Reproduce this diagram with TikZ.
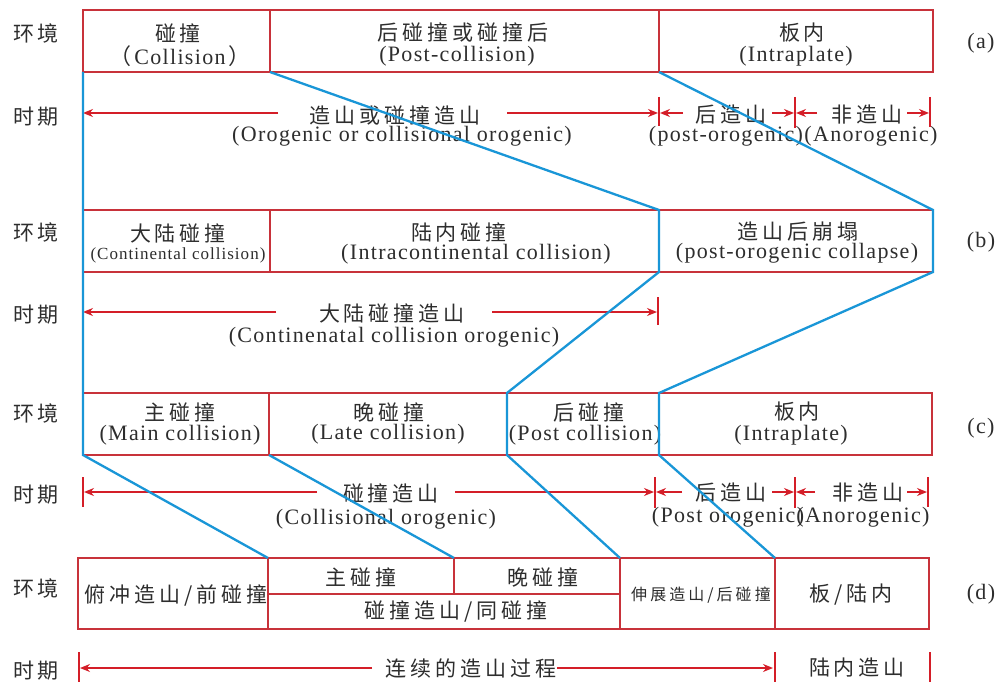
\documentclass[tikz,border=0pt]{standalone}
\usepackage{fontspec}
\setmainfont{Liberation Serif}
\newfontfamily\zhfont{Noto Sans CJK SC}[LetterSpace=19]
\newfontfamily\zhplain{Noto Sans CJK SC}
\newfontfamily\enfont{Liberation Serif}[LetterSpace=6]
\usetikzlibrary{arrows.meta}
\definecolor{boxred}{RGB}{200,50,58}
\definecolor{arrred}{RGB}{212,30,40}
\definecolor{lineblue}{RGB}{25,150,215}
\definecolor{txt}{RGB}{45,45,45}
\begin{document}
\begin{tikzpicture}[x=1pt,y=-1pt,
  cell/.style={draw=boxred, line width=1.8pt, inner sep=0pt, outer sep=0pt, anchor=north west},
  zh/.style={font=\zhfont\fontsize{21}{21}\selectfont, text=txt, inner sep=0pt},
  zhs/.style={font=\zhfont\fontsize{16}{16}\selectfont, text=txt, inner sep=0pt},
  en/.style={font=\enfont\fontsize{22}{22}\selectfont, text=txt, inner sep=0pt},
  ens/.style={font=\enfont\fontsize{17}{17}\selectfont, text=txt, inner sep=0pt},
  arr/.style={draw=arrred, line width=1.5pt, -{Stealth[length=10pt,width=8pt]}},
  tickmark/.style={draw=arrred, line width=1.5pt},
  bline/.style={draw=lineblue, line width=2.3pt, line join=miter}]
\useasboundingbox[fill=white] (0,0) rectangle (997,682);

% ---------- left labels ----------
\node[zh] (e1) at (36,33) {环境};
\node[zh] (s1) at (36,117) {时期};
\node[zh] (e2) at (36,232) {环境};
\node[zh] (s2) at (36,315) {时期};
\node[zh] (e3) at (36,413) {环境};
\node[zh] (s3) at (36,495) {时期};
\node[zh] (e4) at (36,588) {环境};
\node[zh] (s4) at (36,671) {时期};

% ---------- (a) ----------
\node[cell, minimum width=187pt, minimum height=62pt] (a1) at (83,10) {};
\node[cell, minimum width=389pt, minimum height=62pt] (a2) at (270,10) {};
\node[cell, minimum width=274pt, minimum height=62pt] (a3) at (659,10) {};
\node[zh] (a1z) at (178,33) {碰撞};
\node[en] (a1e) at (180,56) {{\zhplain （}\hspace{3pt}Collision\hspace{3pt}{\zhplain ）}};
\node[zh] (a2z) at (463,32) {后碰撞或碰撞后};
\node[en] (a2e) at (457,56) {(Post-collision)};
\node[zh] (a3z) at (802,33) {板内};
\node[en] (a3e) at (796,56) {(Intraplate)};
\node[en] (alab) at (981,43) {(a)};

% period (a)
\node[zh] (pa1z) at (395,115) {造山或碰撞造山};
\node[en] (pa1e) at (402,136) {(Orogenic or collisional orogenic)};
\node[zh] (pa2z) at (731,115) {后造山};
\node[en] (pa2e) at (726,136) {(post-orogenic)};
\node[zh] (pa3z) at (867,115) {非造山};
\node[en] (pa3e) at (871,136) {(Anorogenic)};
\coordinate (ta0) at (83,113);
\coordinate (ta1) at (659,113);
\coordinate (ta2) at (795,113);
\coordinate (ta3) at (930,113);
\coordinate (qa1) at (278,113);
\coordinate (qa2) at (507,113);
\coordinate (qa3) at (683,113);
\coordinate (qa4) at (772,113);
\coordinate (qa5) at (817,113);
\coordinate (qa6) at (907,113);
\draw[arr] (qa1) -- (ta0);
\draw[arr] (qa2) -- ([xshift=-1pt]ta1);
\draw[arr] (qa3) -- ([xshift=1pt]ta1);
\draw[arr] (qa4) -- ([xshift=-1pt]ta2);
\draw[arr] (qa5) -- ([xshift=1pt]ta2);
\draw[arr] (qa6) -- ([xshift=-1pt]ta3);
\draw[tickmark] ([yshift=16pt]ta1) -- ([yshift=-13pt]ta1);
\draw[tickmark] ([yshift=16pt]ta2) -- ([yshift=-15pt]ta2);
\draw[tickmark] ([yshift=16pt]ta3) -- ([yshift=-14pt]ta3);

% ---------- (b) ----------
\node[cell, minimum width=187pt, minimum height=62pt] (b1) at (83,210) {};
\node[cell, minimum width=389pt, minimum height=62pt] (b2) at (270,210) {};
\node[cell, minimum width=274pt, minimum height=62pt] (b3) at (659,210) {};
\node[zh] (b1z) at (178,233) {大陆碰撞};
\node[ens] (b1e) at (178,255) {(Continental collision)};
\node[zh] (b2z) at (459,232) {陆内碰撞};
\node[en] (b2e) at (476,254) {(Intracontinental collision)};
\node[zh] (b3z) at (798,232) {造山后崩塌};
\node[en] (b3e) at (797,253) {(post-orogenic collapse)};
\node[en] (blab) at (981,242) {(b)};

% period (b)
\node[zh] (pb1z) at (392,313) {大陆碰撞造山};
\node[en] (pb1e) at (394,337) {(Continenatal collision orogenic)};
\coordinate (tb0) at (83,312);
\coordinate (tb1) at (658,312);
\coordinate (qb1) at (276,312);
\coordinate (qb2) at (492,312);
\draw[arr] (qb1) -- (tb0);
\draw[arr] (qb2) -- ([xshift=-1pt]tb1);
\draw[tickmark] ([yshift=15pt]tb1) -- ([yshift=-13pt]tb1);

% ---------- (c) ----------
\node[cell, minimum width=186pt, minimum height=62pt] (c1) at (83,393) {};
\node[cell, minimum width=238pt, minimum height=62pt] (c2) at (269,393) {};
\node[cell, minimum width=152pt, minimum height=62pt] (c3) at (507,393) {};
\node[cell, minimum width=273pt, minimum height=62pt] (c4) at (659,393) {};
\node[zh] (c1z) at (180,412) {主碰撞};
\node[en] (c1e) at (180,435) {(Main collision)};
\node[zh] (c2z) at (389,412) {晚碰撞};
\node[en] (c2e) at (388,434) {(Late collision)};
\node[zh] (c3z) at (589,412) {后碰撞};
\node[en] (c3e) at (585,435) {(Post collision)};
\node[zh] (c4z) at (797,412) {板内};
\node[en] (c4e) at (791,435) {(Intraplate)};
\node[en] (clab) at (981,428) {(c)};

% period (c)
\node[zh] (pc1z) at (391,493) {碰撞造山};
\node[en] (pc1e) at (386,519) {(Collisional orogenic)};
\node[zh] (pc2z) at (731,493) {后造山};
\node[en] (pc2e) at (728,517) {(Post orogenic)};
\node[zh] (pc3z) at (868,493) {非造山};
\node[en] (pc3e) at (863,517) {(Anorogenic)};
\coordinate (tc0) at (83,492);
\coordinate (tc1) at (655,492);
\coordinate (tc2) at (795,492);
\coordinate (tc3) at (928,492);
\coordinate (qc1) at (317,492);
\coordinate (qc2) at (455,492);
\coordinate (qc3) at (682,492);
\coordinate (qc4) at (772,492);
\coordinate (qc5) at (815,492);
\coordinate (qc6) at (907,492);
\draw[arr] (qc1) -- ([xshift=1pt]tc0);
\draw[arr] (qc2) -- ([xshift=-1pt]tc1);
\draw[arr] (qc3) -- ([xshift=1pt]tc1);
\draw[arr] (qc4) -- ([xshift=-1pt]tc2);
\draw[arr] (qc5) -- ([xshift=1pt]tc2);
\draw[arr] (qc6) -- ([xshift=-1pt]tc3);
\draw[tickmark] ([yshift=15pt]tc0) -- ([yshift=-15pt]tc0);
\draw[tickmark] ([yshift=15pt]tc1) -- ([yshift=-16pt]tc1);
\draw[tickmark] ([yshift=15pt]tc2) -- ([yshift=-16pt]tc2);
\draw[tickmark] ([yshift=15pt]tc3) -- ([yshift=-15pt]tc3);

% ---------- (d) ----------
\node[cell, minimum width=190pt, minimum height=71pt] (d1) at (78,558) {};
\node[cell, minimum width=186pt, minimum height=36pt] (d2) at (268,558) {};
\node[cell, minimum width=166pt, minimum height=36pt] (d3) at (454,558) {};
\node[cell, minimum width=352pt, minimum height=35pt] (d4) at (268,594) {};
\node[cell, minimum width=155pt, minimum height=71pt] (d5) at (620,558) {};
\node[cell, minimum width=154pt, minimum height=71pt] (d6) at (775,558) {};
\node[zh] (d1z) at (176,595) {俯冲造山/前碰撞};
\node[zh] (d2z) at (361,577) {主碰撞};
\node[zh] (d3z) at (543,577) {晚碰撞};
\node[zh] (d4z) at (456,612) {碰撞造山/同碰撞};
\node[zhs] (d5z) at (701,595) {伸展造山/后碰撞};
\node[zh] (d6z) at (851,595) {板/陆内};
\node[en] (dlab) at (981,594) {(d)};

% period (d)
\node[zh] (pd1z) at (471,668) {连续的造山过程};
\node[zh] (pd2z) at (857,668) {陆内造山};
\coordinate (td0) at (79,668);
\coordinate (td1) at (775,668);
\coordinate (td2) at (930,668);
\coordinate (qd1) at (372,668);
\coordinate (qd2) at (557,668);
\draw[arr] (qd1) -- ([xshift=1pt]td0);
\draw[arr] (qd2) -- ([xshift=-2pt]td1);
\draw[tickmark] ([yshift=16pt]td0) -- ([yshift=-16pt]td0);
\draw[tickmark] ([yshift=16pt]td1) -- ([yshift=-16pt]td1);
\draw[tickmark] ([yshift=16pt]td2) -- ([yshift=-16pt]td2);

% ---------- blue correlation lines ----------
\draw[bline] (a1.south west) -- (c1.south west) -- (d2.north west);
\draw[bline] (a1.south east) -- (b2.north east) -- (b2.south east)
  -- (c3.north west) -- (c3.south west) -- (d5.north west);
\draw[bline] (a2.south east) -- (b3.north east) -- (b3.south east)
  -- (c4.north west) -- (c4.south west) -- (d6.north west);
\draw[bline] (c1.south east) -- (d3.north west);
\end{tikzpicture}
\end{document}
